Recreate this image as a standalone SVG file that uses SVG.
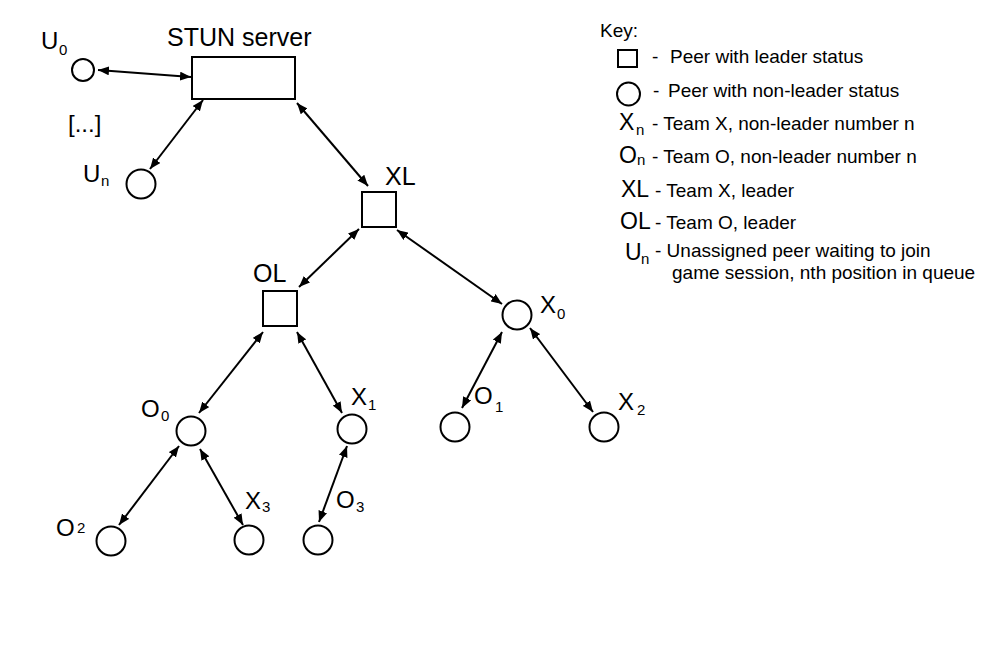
<svg xmlns="http://www.w3.org/2000/svg" width="1000" height="667" viewBox="0 0 1000 667">
<defs>
<style>
text{font-family:"Liberation Sans",Arial,sans-serif;fill:#000}
.lbl{font-size:24px}
.sub{font-size:15px}
.key{font-size:19px}
.ksym{font-size:23px}
.ksub{font-size:15px}
.node{fill:#fff;stroke:#000;stroke-width:2}
.conn{stroke:#000;stroke-width:2;fill:none;marker-start:url(#ah);marker-end:url(#ah)}
</style>
<marker id="ah" markerUnits="userSpaceOnUse" markerWidth="11" markerHeight="9" refX="11" refY="4.5" orient="auto-start-reverse">
<path d="M0,0 L11,4.5 L0,9 z" fill="#000"/>
</marker>
</defs>
<rect width="1000" height="667" fill="#fff"/>

<g id="connectors">
<line class="conn" x1="98" y1="70" x2="191" y2="77"/>
<line class="conn" x1="203" y1="100" x2="150" y2="169"/>
<line class="conn" x1="297" y1="103" x2="368" y2="186"/>
<line class="conn" x1="359" y1="229" x2="299" y2="287"/>
<line class="conn" x1="397" y1="230" x2="502" y2="304"/>
<line class="conn" x1="263" y1="332" x2="199" y2="413"/>
<line class="conn" x1="297" y1="332" x2="342" y2="413"/>
<line class="conn" x1="502" y1="332" x2="462" y2="408"/>
<line class="conn" x1="530" y1="328" x2="593" y2="412"/>
<line class="conn" x1="179" y1="446" x2="119" y2="525"/>
<line class="conn" x1="200" y1="449" x2="243" y2="525"/>
<line class="conn" x1="347" y1="446" x2="319" y2="522"/>
</g>

<g id="stun">
<rect class="node" x="192" y="57" width="103" height="42"/>
<text class="lbl" x="167" y="46" style="font-size:25px">STUN server</text>
</g>
<g id="u0">
<circle class="node" cx="83" cy="70" r="11"/>
<text class="lbl" x="41" y="49">U<tspan class="sub" x="59" y="55">0</tspan></text>
</g>
<g id="ellipsis">
<text class="lbl" x="68" y="132">[...]</text>
</g>
<g id="un">
<circle class="node" cx="141" cy="184" r="14.5"/>
<text class="lbl" x="83" y="182">U<tspan class="sub" x="101" y="186">n</tspan></text>
</g>
<g id="xl">
<rect class="node" x="362" y="192" width="34" height="35"/>
<text class="lbl" x="385" y="185" style="font-size:25px">XL</text>
</g>
<g id="ol">
<rect class="node" x="263" y="291" width="34" height="35"/>
<text class="lbl" x="253" y="282" style="font-size:25px">OL</text>
</g>
<g id="x0">
<circle class="node" cx="517" cy="315" r="14.5"/>
<text class="lbl" x="540" y="313">X<tspan class="sub" x="557" y="319">0</tspan></text>
</g>
<g id="o0">
<circle class="node" cx="191" cy="431" r="14.5"/>
<text class="lbl" x="141" y="417">O<tspan class="sub" x="161" y="421">0</tspan></text>
</g>
<g id="x1">
<circle class="node" cx="352" cy="429" r="14.5"/>
<text class="lbl" x="351" y="405">X<tspan class="sub" x="368" y="410">1</tspan></text>
</g>
<g id="o1">
<circle class="node" cx="455" cy="427" r="14.5"/>
<text class="lbl" x="474" y="404">O<tspan class="sub" x="495" y="412">1</tspan></text>
</g>
<g id="x2">
<circle class="node" cx="604" cy="427" r="14.5"/>
<text class="lbl" x="618" y="410">X<tspan class="sub" x="637" y="415">2</tspan></text>
</g>
<g id="o2">
<circle class="node" cx="111" cy="541" r="14.5"/>
<text class="lbl" x="56" y="536">O<tspan class="sub" x="77" y="533">2</tspan></text>
</g>
<g id="x3">
<circle class="node" cx="249" cy="540" r="14.5"/>
<text class="lbl" x="245" y="509">X<tspan class="sub" x="262" y="512">3</tspan></text>
</g>
<g id="o3">
<circle class="node" cx="318" cy="540" r="14.5"/>
<text class="lbl" x="336" y="508">O<tspan class="sub" x="356" y="512">3</tspan></text>
</g>

<g id="key">
<text class="key" x="600" y="37">Key:</text>
<rect class="node" x="618" y="50" width="19" height="17"/>
<text class="key" x="652" y="63">-</text>
<text class="key" x="670" y="63">Peer with leader status</text>
<circle class="node" cx="628.5" cy="94" r="11.5"/>
<text class="key" x="653" y="97">-</text>
<text class="key" x="668" y="97">Peer with non-leader status</text>
<text class="ksym" x="619" y="130">X<tspan class="ksub" x="636" y="135">n</tspan></text>
<text class="key" x="652" y="130">- Team X, non-leader number n</text>
<text class="ksym" x="619" y="163">O<tspan class="ksub" x="637" y="165">n</tspan></text>
<text class="key" x="652" y="163">- Team O, non-leader number n</text>
<text class="ksym" x="621" y="197">XL</text>
<text class="key" x="655" y="197">- Team X, leader</text>
<text class="ksym" x="620" y="229">OL</text>
<text class="key" x="655" y="229">- Team O, leader</text>
<text class="ksym" x="625" y="260">U<tspan class="ksub" x="641" y="264">n</tspan></text>
<text class="key" x="655" y="257">- Unassigned peer waiting to join</text>
<text class="key" x="672" y="279">game session, nth position in queue</text>
</g>
</svg>
